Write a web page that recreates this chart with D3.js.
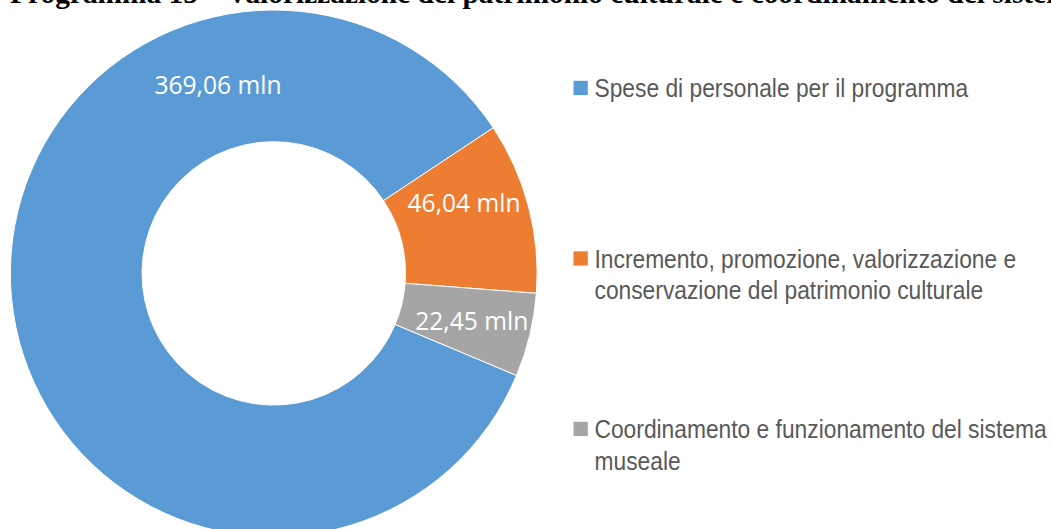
<!DOCTYPE html>
<html>
<head>
<meta charset="utf-8">
<script src="https://cdn.jsdelivr.net/npm/d3@7"></script>
<style>
html,body{margin:0;padding:0;background:#fff;overflow:hidden;}
svg{display:block;}
</style>
</head>
<body>
<svg id="chart" width="1051" height="529"></svg>
<script>
// ---- data ----
const title = "Programma 15 – Valorizzazione del patrimonio culturale e coordinamento del sistema museale";
const categories = [
  "Spese di personale per il programma",
  "Incremento, promozione, valorizzazione e conservazione del patrimonio culturale",
  "Coordinamento e funzionamento del sistema museale"
];
const legendLines = [
  ["Spese di personale per il programma"],
  ["Incremento, promozione, valorizzazione e", "conservazione del patrimonio culturale"],
  ["Coordinamento e funzionamento del sistema", "museale"]
];
const values = [369.06, 46.04, 22.45];
const valueLabels = ["369,06 mln", "46,04 mln", "22,45 mln"];
const colors = ["#5B9BD5", "#ED7D31", "#A5A5A5"];

// ---- layout ----
const svg = d3.select("#chart");
const cx = 273.75, cy = 273.4;
const outerR = 263.4, innerR = 131.7;
const startDeg = 112.8;

svg.append("text")
  .attr("x", 10).attr("y", 3)
  .attr("font-family", "'Liberation Serif','Times New Roman',serif")
  .attr("font-weight", "bold")
  .attr("font-size", 29.4)
  .attr("fill", "#000")
  .text(title);

const pie = d3.pie().sort(null).value(d => d)
  .startAngle(startDeg * Math.PI / 180)
  .endAngle(startDeg * Math.PI / 180 + 2 * Math.PI);
const arcs = pie(values);
const arc = d3.arc().innerRadius(innerR).outerRadius(outerR);

const g = svg.append("g").attr("transform", `translate(${cx},${cy})`);
g.selectAll("path").data(arcs).enter().append("path")
  .attr("d", arc)
  .attr("fill", (d, i) => colors[i])
  .attr("stroke", "#fff")
  .attr("stroke-width", 1);

// label placement (angle in degrees, radius) — manual positions as in the source
const labelPos = [[343.5, 196.5], [69.7, 202.9], [103.5, 203.6]];
g.selectAll("text.lbl").data(arcs).enter().append("text")
  .attr("class", "lbl")
  .attr("x", (d, i) => labelPos[i][1] * Math.sin(labelPos[i][0] * Math.PI / 180))
  .attr("y", (d, i) => -labelPos[i][1] * Math.cos(labelPos[i][0] * Math.PI / 180))
  .attr("dy", "0.35em")
  .attr("text-anchor", "middle")
  .attr("font-family", "'Open Sans',sans-serif")
  .attr("font-size", 24.6)
  .attr("fill", "#fff")
  .text((d, i) => valueLabels[i]);

// legend
const legendY = d3.scalePoint().domain(d3.range(categories.length)).range([97.3, 438.3]);
const lg = svg.append("g");
const items = lg.selectAll("g").data(categories).enter().append("g")
  .attr("transform", (d, i) => `translate(573.5,${legendY(i)})`);
items.append("rect")
  .attr("x", 0).attr("y", -16.5).attr("width", 14.3).attr("height", 14.3)
  .attr("fill", (d, i) => colors[i]);
items.each(function(d, i) {
  const t = d3.select(this).append("text")
    .attr("transform", "translate(21,0) scale(0.912,1)")
    .attr("font-family", "'Liberation Sans','Arial',sans-serif")
    .attr("font-size", 25)
    .attr("fill", "#595959");
  legendLines[i].forEach((line, j) => {
    t.append("tspan").attr("x", 0).attr("y", j * 31.7).text(line);
  });
});
</script>
</body>
</html>
